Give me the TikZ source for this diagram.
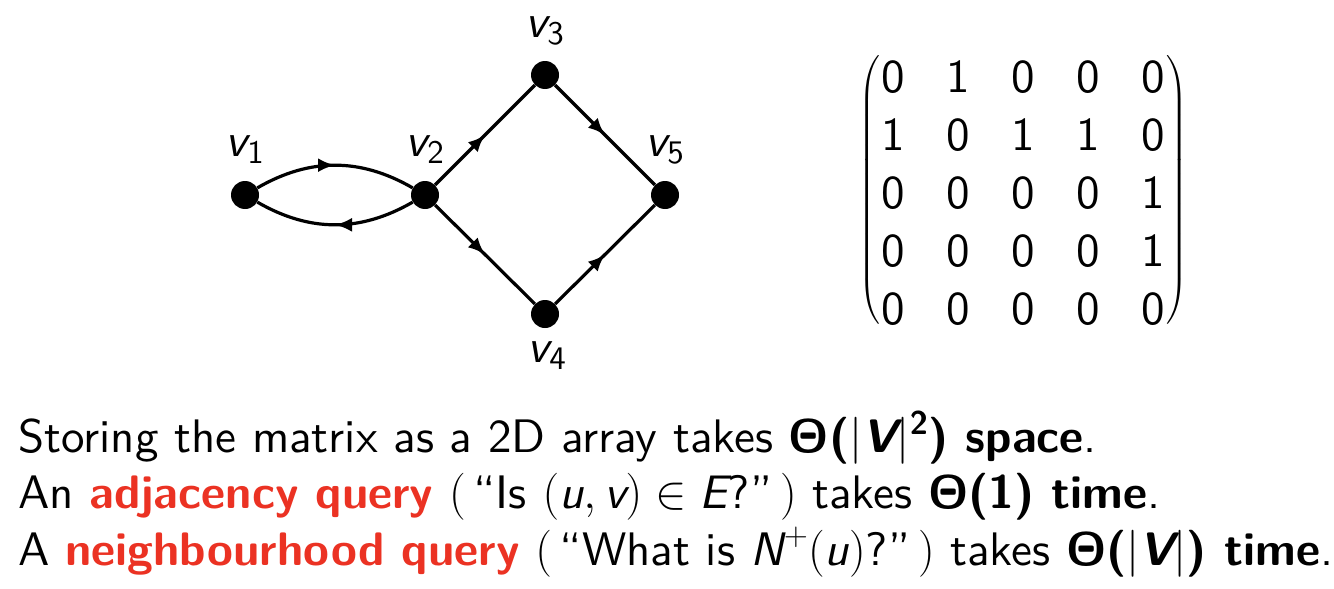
\RequirePackage{fix-cm}
\documentclass[tikz,border=0pt]{standalone}
\usepackage{fontspec}
\usepackage{amsmath}
\setsansfont{lmsans10-regular.otf}[BoldFont=lmsans10-bold.otf, ItalicFont=lmsans10-oblique.otf, BoldItalicFont=lmsans10-boldoblique.otf]
\usetikzlibrary{arrows.meta,decorations.markings,matrix}
\definecolor{alertred}{RGB}{235,50,35}
\newcommand{\mvar}[1]{\text{\sffamily\itshape #1}}
\newcommand{\mvarb}[1]{\text{\sffamily\bfseries\itshape #1}}
\newcommand{\mup}[1]{\text{\sffamily #1}}
\newcommand{\bigfont}{\fontsize{47}{56}\selectfont\sffamily}
\tikzset{
  vert/.style={circle,fill=black,minimum size=28,inner sep=0},
  lbl/.style={font=\bigfont,inner sep=0},
  txt/.style={font=\bigfont,inner sep=0,anchor=base west},
  every delimiter/.style={font=\bigfont},
  dedge/.style={line width=3.2, postaction={decorate},
    decoration={markings, mark=at position 0.5 with {\arrow{Latex[length=17,width=14]}}}}
}
\begin{document}
\begin{tikzpicture}[x=1pt,y=-1pt]
\useasboundingbox (0,0) rectangle (1334,589);
% vertices
\node[vert] (v1) at (245,195) {};
\node[vert] (v2) at (425,195) {};
\node[vert] (v3) at (545,75) {};
\node[vert] (v4) at (545,314) {};
\node[vert] (v5) at (665,195) {};
% labels
\node[lbl] (l1) at (245,150) {$\mvar{v}_{\mup{1}}$};
\node[lbl] (l2) at (425,150) {$\mvar{v}_{\mup{2}}$};
\node[lbl] (l3) at (545,31) {$\mvar{v}_{\mup{3}}$};
\node[lbl] (l4) at (547,356) {$\mvar{v}_{\mup{4}}$};
\node[lbl] (l5) at (665,150) {$\mvar{v}_{\mup{5}}$};
% edges
\draw[dedge] (v1) to[bend left=30] (v2);
\draw[dedge] (v2) to[bend left=30] (v1);
\draw[dedge] (v2) -- (v3);
\draw[dedge] (v3) -- (v5);
\draw[dedge] (v2) -- (v4);
\draw[dedge] (v4) -- (v5);
% matrix
\matrix (M) [matrix of nodes, inner sep=0, column sep=41.5, row sep=28,
  nodes={font=\bigfont, inner sep=0, text height=30, text depth=0, anchor=center},
  left delimiter=(, right delimiter=)] at (1023,193) {
  0 & 1 & 0 & 0 & 0 \\
  1 & 0 & 1 & 1 & 0 \\
  0 & 0 & 0 & 0 & 1 \\
  0 & 0 & 0 & 0 & 1 \\
  0 & 0 & 0 & 0 & 0 \\
};
% text
\node[txt] (t1) at (18,452) {Storing the matrix as a 2D array takes {\bfseries Θ(}$|\mvarb{V}|^{\mup{\bfseries 2}}${\bfseries ) space}.};
\node[txt] (t2) at (18,508) {An \textcolor{alertred}{\bfseries adjacency query} $($\,“Is $(\mvar{u},\mvar{v})\in\mvar{E}$?”\,$)$ takes {\bfseries Θ(1) time}.};
\node[txt] (t3) at (18,565) {A \textcolor{alertred}{\bfseries neighbourhood query} $($\,“What is $\mvar{N}^{+}(\mvar{u})$?”\,$)$ takes {\bfseries Θ(}$|\mvarb{V}|${\bfseries ) time}.};
\end{tikzpicture}
\end{document}
